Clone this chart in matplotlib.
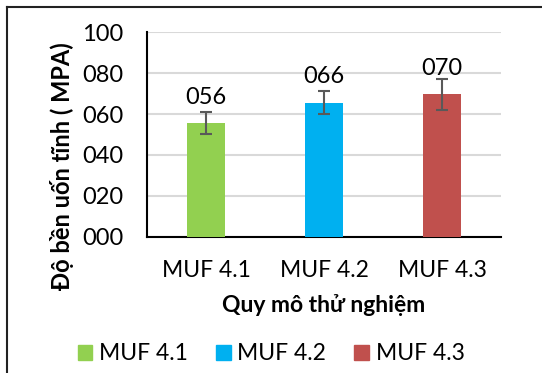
import numpy as np
import matplotlib.pyplot as plt
from matplotlib.lines import Line2D
from matplotlib.ticker import FuncFormatter

# data
samples = ["MUF 4.1", "MUF 4.2", "MUF 4.3"]
strength = [55.6, 65.6, 69.6]
errors = [5.4, 5.8, 7.5]
colors = ["#92D050", "#00B0F0", "#C0504D"]

plt.rcParams['font.family'] = ['Lato', 'DejaVu Sans']

fig = plt.figure(figsize=(5.42, 3.73), dpi=100)
ax = fig.add_axes([147/542, 1 - 236.7/373, (501-147)/542, (236.7-32.3)/373])

x = np.arange(len(samples))
ax.bar(x, strength, width=0.32, color=colors, zorder=3)
ax.errorbar(x, strength, yerr=errors, fmt='none', ecolor='#595959',
            elinewidth=1.5, capsize=4, capthick=1.5, zorder=4)

for xi, v in zip(x, strength):
    ax.annotate(f"{v:03.0f}", (xi, v), xytext=(0, 18.5), textcoords='offset points',
                ha='center', va='center', fontsize=17)

ax.set_xlim(-0.5, 2.5)
ax.set_ylim(0, 100)
ax.set_yticks(range(0, 101, 20))
ax.yaxis.set_major_formatter(FuncFormatter(lambda v, p: f"{int(v):03d}"))
ax.set_xticks(x)
ax.set_xticklabels(samples)
ax.tick_params(axis='both', length=0)
ax.tick_params(axis='y', pad=17, labelsize=17)
ax.tick_params(axis='x', pad=17, labelsize=16.5)
ax.grid(axis='y', color='#d9d9d9', linewidth=1.5, zorder=0)
ax.set_axisbelow(True)
for s in ['top', 'right']:
    ax.spines[s].set_visible(False)
for s in ['left', 'bottom']:
    ax.spines[s].set_linewidth(1.5)
    ax.spines[s].set_color('black')

ax.set_ylabel("Độ bền uốn tĩnh ( MPA)", fontsize=17, fontweight='bold')
ax.yaxis.set_label_coords(-0.206, 0.346)
ax.set_xlabel("Quy mô thử nghiệm", fontsize=16.5, fontweight='bold', labelpad=9)

handles = [plt.Rectangle((0, 0), 1, 1, color=c) for c in colors]
fig.legend(handles, samples, loc='center', bbox_to_anchor=(0.5, 1 - 354/373),
           ncol=3, frameon=False, fontsize=16.5, handlelength=0.65, handleheight=0.65,
           handletextpad=0.3, columnspacing=1.2, borderpad=0)

# outer chart border (cut off on the right and bottom)
fig.add_artist(Line2D([7/542, 7/542], [0, 1 - 7.3/373], color='#222222', linewidth=1.5))
fig.add_artist(Line2D([7/542, 1], [1 - 7.3/373, 1 - 7.3/373], color='#222222', linewidth=1.5))

fig.savefig("out.png", dpi=100)
